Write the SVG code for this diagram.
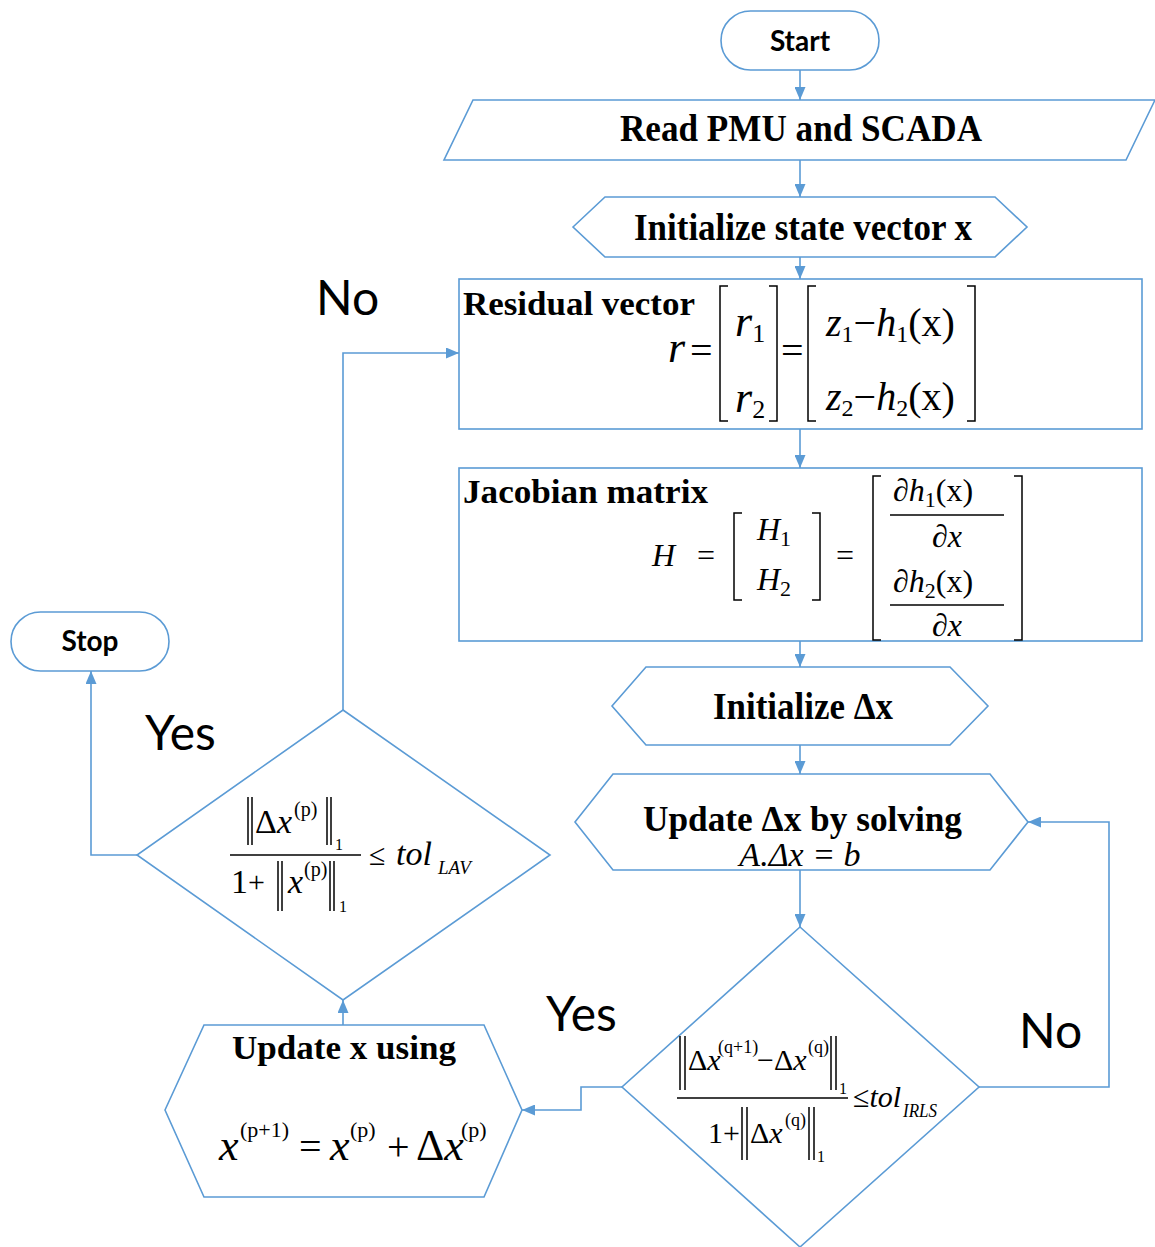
<svg xmlns="http://www.w3.org/2000/svg" width="1155" height="1247" viewBox="0 0 1155 1247">
  <style>
    .shape { fill: #ffffff; stroke: #5b9bd5; stroke-width: 1.6; }
    .wire { fill: none; stroke: #5b9bd5; stroke-width: 1.6; }
    .term { font-family: Lato, "Open Sans", sans-serif; font-weight: bold; font-size: 28px; fill: #000; text-anchor: middle; }
    .lbl { font-family: Lato, "Open Sans", sans-serif; font-size: 48px; fill: #000; }
    .head { font-family: "Liberation Serif", "Times New Roman", serif; font-weight: bold; fill: #000; }
    .m { font-family: "Liberation Serif", "Times New Roman", serif; fill: #000; }
    .i { font-style: italic; }
    .br { fill: none; stroke: #000; stroke-width: 1.5; }
  </style>
  <defs>
    <marker id="arr" markerWidth="13" markerHeight="11" refX="13" refY="5.5" orient="auto" markerUnits="userSpaceOnUse">
      <path d="M0,0 L13,5.5 L0,11 Z" fill="#5b9bd5"/>
    </marker>
  </defs>

  <rect width="1155" height="1247" fill="#ffffff"/>

  <!-- connectors -->
  <g id="connectors">
    <path class="wire" d="M800,70 V100" marker-end="url(#arr)"/>
    <path class="wire" d="M800,160 V197" marker-end="url(#arr)"/>
    <path class="wire" d="M800,257 V279" marker-end="url(#arr)"/>
    <path class="wire" d="M800,429 V468" marker-end="url(#arr)"/>
    <path class="wire" d="M800,641 V667" marker-end="url(#arr)"/>
    <path class="wire" d="M800,745 V774" marker-end="url(#arr)"/>
    <path class="wire" d="M800,870 V927" marker-end="url(#arr)"/>
    <path class="wire" d="M979,1087 H1109 V822 H1028" marker-end="url(#arr)"/>
    <path class="wire" d="M622,1087 H581 V1110 H522" marker-end="url(#arr)"/>
    <path class="wire" d="M343,1025 V1000" marker-end="url(#arr)"/>
    <path class="wire" d="M137,855 H91 V671" marker-end="url(#arr)"/>
    <path class="wire" d="M343,710 V353 H459" marker-end="url(#arr)"/>
    <text class="lbl" x="316" y="315">No</text>
    <text class="lbl" x="145" y="750">Yes</text>
    <text class="lbl" x="546" y="1031">Yes</text>
    <text class="lbl" x="1019" y="1048">No</text>
  </g>

  <!-- start terminal -->
  <g id="start">
    <rect class="shape" x="721" y="11" width="158" height="59" rx="29.5"/>
    <text class="term" x="800" y="51">Start</text>
  </g>

  <!-- input: measurements -->
  <g id="read">
    <polygon class="shape" points="473,100 1155,100 1126,160 444,160"/>
    <text class="head" x="620" y="141" font-size="38" textLength="362" lengthAdjust="spacingAndGlyphs">Read PMU and SCADA</text>
  </g>

  <!-- preparation: initial state -->
  <g id="init-x">
    <polygon class="shape" points="573,227 605,197 995,197 1027,227 995,257 605,257"/>
    <text class="head" x="634" y="240" font-size="38" textLength="338" lengthAdjust="spacingAndGlyphs">Initialize state vector x</text>
  </g>

  <!-- residual vector -->
  <g id="residual">
    <rect class="shape" x="459" y="279" width="683" height="150"/>
    <text class="head" x="463" y="315" font-size="33" textLength="232" lengthAdjust="spacingAndGlyphs">Residual vector</text>
    <text class="m i" x="668" y="362" font-size="44">r</text>
    <text class="m" x="690" y="364" font-size="40">=</text>
    <path class="br" d="M728,286 H720 V421 H728"/>
    <path class="br" d="M769,286 H777 V421 H769"/>
    <text class="m" font-size="44" x="735" y="336"><tspan class="i">r</tspan><tspan font-size="26" dy="6">1</tspan></text>
    <text class="m" font-size="44" x="735" y="412"><tspan class="i">r</tspan><tspan font-size="26" dy="6">2</tspan></text>
    <text class="m" x="781" y="364" font-size="40">=</text>
    <path class="br" d="M816,286 H808 V421 H816"/>
    <path class="br" d="M967,286 H975 V421 H967"/>
    <text class="m" font-size="40" x="826" y="336"><tspan class="i">z</tspan><tspan font-size="24" dy="6">1</tspan><tspan dy="-6">−</tspan><tspan class="i">h</tspan><tspan font-size="24" dy="6">1</tspan><tspan dy="-6">(x)</tspan></text>
    <text class="m" font-size="40" x="826" y="410"><tspan class="i">z</tspan><tspan font-size="24" dy="6">2</tspan><tspan dy="-6">−</tspan><tspan class="i">h</tspan><tspan font-size="24" dy="6">2</tspan><tspan dy="-6">(x)</tspan></text>
  </g>

  <!-- jacobian matrix -->
  <g id="jacobian">
    <rect class="shape" x="459" y="468" width="683" height="173"/>
    <text class="head" x="463" y="503" font-size="34" textLength="245" lengthAdjust="spacingAndGlyphs">Jacobian matrix</text>
    <text class="m i" x="652" y="566" font-size="32">H</text>
    <text class="m" x="697" y="566" font-size="32">=</text>
    <path class="br" d="M742,513 H734 V600 H742"/>
    <path class="br" d="M812,513 H820 V600 H812"/>
    <text class="m" font-size="32" x="757" y="540"><tspan class="i">H</tspan><tspan font-size="22" dy="6">1</tspan></text>
    <text class="m" font-size="32" x="757" y="590"><tspan class="i">H</tspan><tspan font-size="22" dy="6">2</tspan></text>
    <text class="m" x="836" y="566" font-size="32">=</text>
    <path class="br" d="M881,476 H873 V640 H881"/>
    <path class="br" d="M1014,476 H1022 V640 H1014"/>
    <text class="m" font-size="32" x="893" y="501">∂<tspan class="i">h</tspan><tspan font-size="22" dy="6">1</tspan><tspan dy="-6">(x)</tspan></text>
    <line class="br" x1="890" y1="515" x2="1004" y2="515"/>
    <text class="m" font-size="32" x="947" y="547" text-anchor="middle">∂<tspan class="i">x</tspan></text>
    <text class="m" font-size="32" x="893" y="592">∂<tspan class="i">h</tspan><tspan font-size="22" dy="6">2</tspan><tspan dy="-6">(x)</tspan></text>
    <line class="br" x1="890" y1="605" x2="1004" y2="605"/>
    <text class="m" font-size="32" x="947" y="636" text-anchor="middle">∂<tspan class="i">x</tspan></text>
  </g>

  <!-- preparation: initial increment -->
  <g id="init-dx">
    <polygon class="shape" points="612,706 646,667 950,667 988,706 950,745 646,745"/>
    <text class="head" x="713" y="719" font-size="37" textLength="180" lengthAdjust="spacingAndGlyphs">Initialize Δx</text>
  </g>

  <!-- solve for increment -->
  <g id="update-dx">
    <polygon class="shape" points="575,822 613,774 990,774 1028,822 990,870 613,870"/>
    <text class="head" x="643" y="831" font-size="35" textLength="319" lengthAdjust="spacingAndGlyphs">Update Δx by solving</text>
    <text class="m i" x="800" y="866" font-size="34" text-anchor="middle">A.Δx = b</text>
  </g>

  <!-- IRLS convergence test -->
  <g id="irls-check">
    <polygon class="shape" points="800,927 979,1087 800,1247 622,1087"/>
    <path class="br" d="M680,1036 V1090 M685,1036 V1090 M831,1036 V1090 M836,1036 V1090" stroke-width="1.2"/>
    <text class="m" font-size="30" x="688" y="1070">Δ<tspan class="i">x</tspan></text>
    <text class="m" font-size="18" x="718" y="1053">(q+1)</text>
    <text class="m" font-size="30" x="757" y="1070">−Δ<tspan class="i">x</tspan></text>
    <text class="m" font-size="18" x="808" y="1053">(q)</text>
    <text class="m" font-size="16" x="839" y="1094">1</text>
    <line class="br" x1="677" y1="1098" x2="848" y2="1098"/>
    <text class="m" font-size="30" x="708" y="1143">1+</text>
    <path class="br" d="M742,1107 V1160 M747,1107 V1160 M809,1107 V1160 M814,1107 V1160" stroke-width="1.2"/>
    <text class="m" font-size="30" x="750" y="1143">Δ<tspan class="i">x</tspan></text>
    <text class="m" font-size="18" x="785" y="1126">(q)</text>
    <text class="m" font-size="16" x="817" y="1162">1</text>
    <text class="m" font-size="30" x="853" y="1107">≤<tspan class="i">tol</tspan></text>
    <text class="m i" font-size="18" x="903" y="1117" textLength="34" lengthAdjust="spacingAndGlyphs">IRLS</text>
  </g>

  <!-- state update -->
  <g id="update-x">
    <polygon class="shape" points="165,1110 204,1025 484,1025 522,1110 484,1197 204,1197"/>
    <text class="head" x="232" y="1059" font-size="33" textLength="224" lengthAdjust="spacingAndGlyphs">Update x using</text>
    <text class="m i" font-size="44" x="219" y="1160">x</text>
    <text class="m" font-size="22" x="240" y="1137">(p+1)</text>
    <text class="m" font-size="40" x="299" y="1160">=</text>
    <text class="m i" font-size="44" x="330" y="1160">x</text>
    <text class="m" font-size="22" x="350" y="1137">(p)</text>
    <text class="m" font-size="40" x="387" y="1160">+</text>
    <text class="m" font-size="44" x="416" y="1160">Δ<tspan class="i">x</tspan></text>
    <text class="m" font-size="22" x="461" y="1137">(p)</text>
  </g>

  <!-- LAV convergence test -->
  <g id="lav-check">
    <polygon class="shape" points="343,710 550,855 343,1000 137,855"/>
    <path class="br" d="M248,797 V845 M252,797 V845 M327,797 V845 M331,797 V845" stroke-width="1.2"/>
    <text class="m" font-size="34" x="255" y="833">Δ<tspan class="i">x</tspan></text>
    <text class="m" font-size="20" x="294" y="816">(p)</text>
    <text class="m" font-size="16" x="335" y="850">1</text>
    <line class="br" x1="230" y1="855" x2="361" y2="855"/>
    <text class="m" font-size="34" x="231" y="893">1</text>
    <text class="m" font-size="30" x="248" y="892">+</text>
    <path class="br" d="M278,861 V911 M282,861 V911 M330,861 V911 M334,861 V911" stroke-width="1.2"/>
    <text class="m i" font-size="34" x="288" y="893">x</text>
    <text class="m" font-size="20" x="304" y="876">(p)</text>
    <text class="m" font-size="16" x="339" y="912">1</text>
    <text class="m" font-size="30" x="369" y="865">≤</text>
    <text class="m i" font-size="34" x="396" y="865">tol</text>
    <text class="m i" font-size="19" x="438" y="874">LAV</text>
  </g>

  <!-- stop terminal -->
  <g id="stop">
    <rect class="shape" x="11" y="612" width="158" height="59" rx="29.5"/>
    <text class="term" x="90" y="651">Stop</text>
  </g>
</svg>
